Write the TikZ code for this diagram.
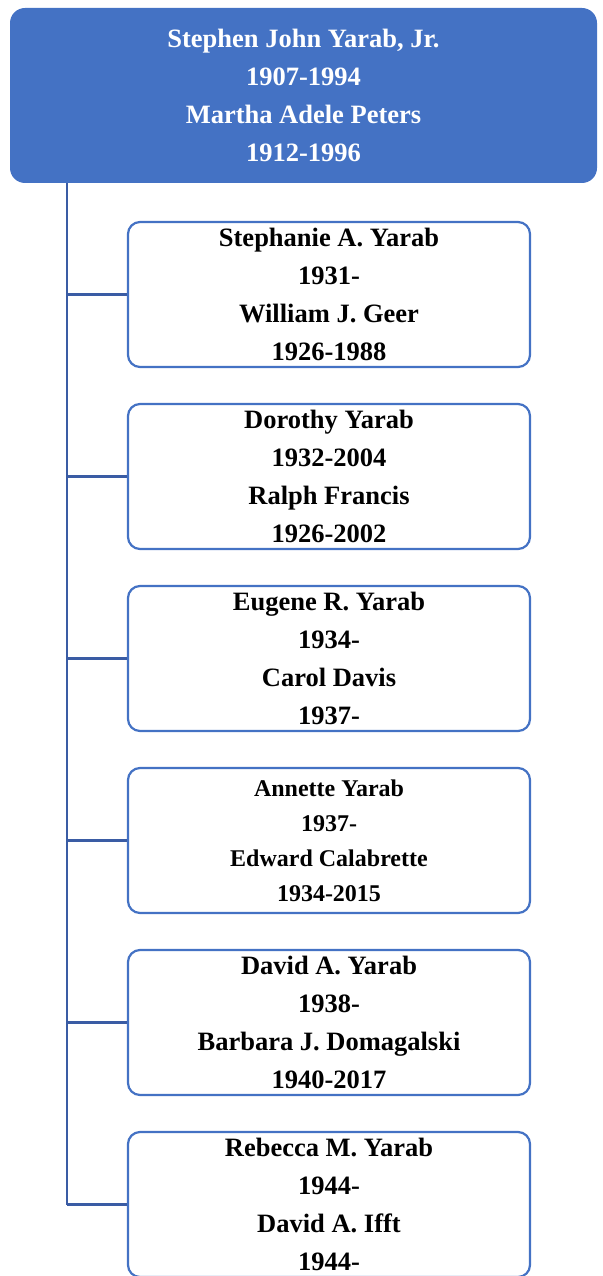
\documentclass[tikz,border=0pt]{standalone}
\usepackage{fontspec}
\setmainfont{Liberation Serif}
\definecolor{famblue}{RGB}{68,114,196}
\definecolor{linkblue}{RGB}{58,92,164}
\tikzset{
  parent/.style={rectangle, rounded corners=15pt, fill=famblue, text=white,
    minimum width=587pt, minimum height=175pt, inner sep=0pt, align=center,
    font=\fontsize{26.5}{38}\selectfont\bfseries},
  child/.style={rectangle, rounded corners=12pt, draw=famblue, line width=2.2pt, fill=white,
    minimum width=402pt, minimum height=145pt, inner sep=0pt, align=center,
    font=\fontsize{26.5}{38}\selectfont\bfseries},
  link/.style={draw=linkblue, line width=2.2pt}
}
\begin{document}
\begin{tikzpicture}[x=1pt, y=-1pt]
    \useasboundingbox (0,0) rectangle (602,1276);

    % Parents
    \node[parent] (root) at (303.5,95.5) {Stephen John Yarab, Jr.\\1907-1994\\Martha Adele Peters\\1912-1996};

    % Children
    \node[child] (c1) at (329,294.5) {Stephanie A. Yarab\\1931-\\William J. Geer\\1926-1988};
    \node[child] (c2) at (329,476.5) {Dorothy Yarab\\1932-2004\\Ralph Francis\\1926-2002};
    \node[child] (c3) at (329,658.5) {Eugene R. Yarab\\1934-\\Carol Davis\\1937-};
    \node[child, font=\fontsize{24}{35}\selectfont\bfseries] (c4) at (329,840.5) {Annette Yarab\\1937-\\Edward Calabrette\\1934-2015};
    \node[child] (c5) at (329,1022.5) {David A. Yarab\\1938-\\Barbara J. Domagalski\\1940-2017};
    \node[child] (c6) at (329,1204.5) {Rebecca M. Yarab\\1944-\\David A. Ifft\\1944-};

    % Trunk line
    \coordinate (trunk) at ([xshift=-60pt]c6.west);
    \draw[link] (root.south -| trunk) -- (trunk);

    % Branches
    \foreach \k in {1,...,6}
        \draw[link] (c\k.west -| trunk) -- (c\k.west);

\end{tikzpicture}
\end{document}
